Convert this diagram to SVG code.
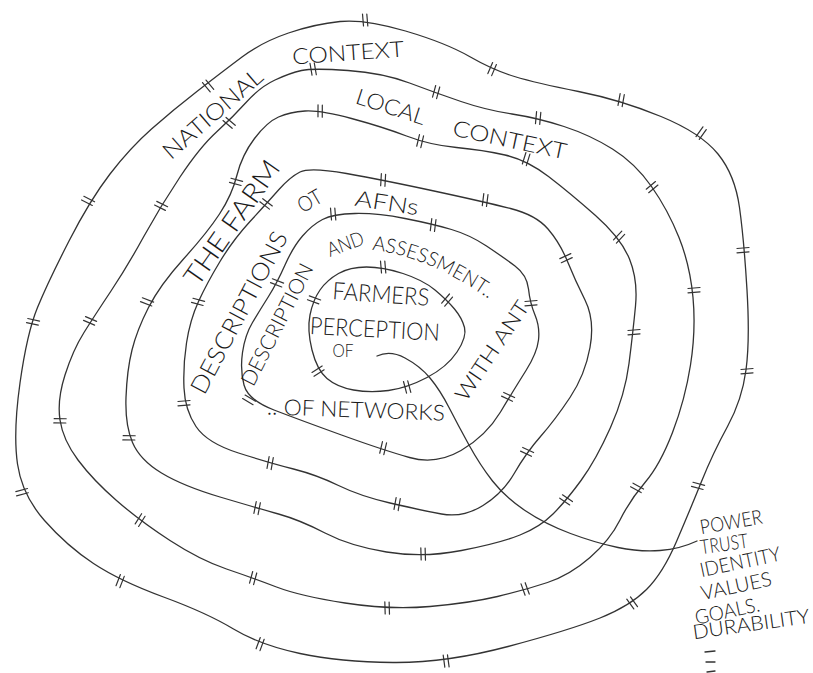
<svg xmlns="http://www.w3.org/2000/svg" xmlns:xlink="http://www.w3.org/1999/xlink" width="813" height="673" viewBox="0 0 813 673">
<style>
.ring{fill:none;stroke:#333;stroke-width:1.3;stroke-linejoin:round}
.lbl{font-family:Lato,"Liberation Sans","DejaVu Sans",sans-serif;font-weight:300;fill:#1a1a1a;text-anchor:middle;dominant-baseline:central}
.lst{font-family:Lato,"Liberation Sans","DejaVu Sans",sans-serif;font-weight:300;fill:#1a1a1a;font-size:20px;text-anchor:middle;dominant-baseline:central}
.conn{fill:none;stroke:#333;stroke-width:1.3;stroke-linecap:round}
</style>
<defs>
<path id="tk" d="M-2.5,-6 L-1.5,6 M1.8,-6 L2.8,6" fill="none" stroke="#333" stroke-width="1.2" stroke-linecap="round"/>
</defs>
<rect width="813" height="673" fill="#ffffff"/>

<g id="ring-national">
<path class="ring" d="M 340,21.5 Q 365,19 405.5,31 Q 446,43 469.5,56.5 Q 493,70 514.5,76.5 Q 536,83 578.5,91.5 Q 621,100 661,116.5 Q 701,133 718,154 Q 735,175 739.5,207.5 Q 744,240 747,290 Q 750,340 746,370 Q 742,400 727.5,426.5 Q 713,453 701.5,481.5 Q 690,510 676.5,541.5 Q 663,573 646.5,589.5 Q 630,606 600,618 Q 570,630 508,646.5 Q 446,663 393,662.5 Q 340,662 300,653.5 Q 260,645 233.5,629 Q 207,613 163.5,597 Q 120,581 93.5,563.5 Q 67,546 44.5,520.5 Q 22,495 17.5,464 Q 13,433 20,383 Q 27,333 37.5,307.5 Q 48,282 69,241 Q 90,200 110,174 Q 130,148 151.5,129 Q 173,110 197.5,91 Q 222,72 242,57 Q 262,42 288.5,33 Q 315,24 340,21.5 Z"/>
<use href="#tk" transform="translate(365,20) rotate(0)"/>
<use href="#tk" transform="translate(492,69) rotate(28)"/>
<use href="#tk" transform="translate(621,100) rotate(15)"/>
<use href="#tk" transform="translate(701,133) rotate(40)"/>
<use href="#tk" transform="translate(743,250) rotate(90)"/>
<use href="#tk" transform="translate(747,371) rotate(90)"/>
<use href="#tk" transform="translate(698,486) rotate(-70)"/>
<use href="#tk" transform="translate(632,603) rotate(-31)"/>
<use href="#tk" transform="translate(446,661) rotate(-3)"/>
<use href="#tk" transform="translate(260,644) rotate(25)"/>
<use href="#tk" transform="translate(120,581) rotate(26)"/>
<use href="#tk" transform="translate(22,492) rotate(80)"/>
<use href="#tk" transform="translate(33,322) rotate(-73)"/>
<use href="#tk" transform="translate(88,201) rotate(-58)"/>
<use href="#tk" transform="translate(208,86) rotate(-35)"/>
<text class="lbl" font-size="23" transform="translate(212,113) rotate(-41)" textLength="124" lengthAdjust="spacingAndGlyphs">NATIONAL</text>
<text class="lbl" font-size="22" transform="translate(348,52) rotate(-4)" textLength="112" lengthAdjust="spacingAndGlyphs">CONTEXT</text>
</g>

<g id="ring-local">
<path class="ring" d="M 301.5,70.5 Q 313,68 348,70.5 Q 383,73 409.5,83 Q 436,93 461,101.5 Q 486,110 512,114 Q 538,118 564,126.5 Q 590,135 612.5,149 Q 635,163 651.5,186.5 Q 668,210 679,237.5 Q 690,265 693,297.5 Q 696,330 690.5,365 Q 685,400 672.5,432.5 Q 660,465 645,482.5 Q 630,500 620,520 Q 610,540 590,557.5 Q 570,575 547.5,582.5 Q 525,590 497.5,596.5 Q 470,603 430,606.5 Q 390,610 345,603 Q 300,596 276.5,587 Q 253,578 226.5,569 Q 200,560 170,540.5 Q 140,521 116.5,500.5 Q 93,480 78,460 Q 63,440 60,420 Q 57,400 65,375 Q 73,350 84,332.5 Q 95,315 111,291 Q 127,267 143.5,237 Q 160,207 180,177 Q 200,147 216.5,132 Q 233,117 246.5,102 Q 260,87 275,80 Q 290,73 301.5,70.5 Z"/>
<use href="#tk" transform="translate(313,69) rotate(-5)"/>
<use href="#tk" transform="translate(436,92) rotate(20)"/>
<use href="#tk" transform="translate(538,118) rotate(10)"/>
<use href="#tk" transform="translate(652,187) rotate(55)"/>
<use href="#tk" transform="translate(694,290) rotate(90)"/>
<use href="#tk" transform="translate(637,488) rotate(-56)"/>
<use href="#tk" transform="translate(525,589) rotate(-15)"/>
<use href="#tk" transform="translate(387,608) rotate(3)"/>
<use href="#tk" transform="translate(253,578) rotate(20)"/>
<use href="#tk" transform="translate(140,520) rotate(37)"/>
<use href="#tk" transform="translate(60,421) rotate(-85)"/>
<use href="#tk" transform="translate(90,321) rotate(-62)"/>
<use href="#tk" transform="translate(161,206) rotate(-59)"/>
<use href="#tk" transform="translate(229,123) rotate(-45)"/>
<text class="lbl" font-size="22" transform="translate(391,106) rotate(18)" textLength="72" lengthAdjust="spacingAndGlyphs">LOCAL</text>
<text class="lbl" font-size="22" transform="translate(510,139) rotate(12)" textLength="116" lengthAdjust="spacingAndGlyphs">CONTEXT</text>
</g>

<g id="ring-farm">
<path class="ring" d="M 305,111 Q 320,110 351.5,118.5 Q 383,127 406.5,136 Q 430,145 456.5,147.5 Q 483,150 505,155 Q 527,160 548.5,176.5 Q 570,193 595.5,215.5 Q 621,238 629.5,259 Q 638,280 635.5,306 Q 633,332 629,363.5 Q 625,395 610.5,427.5 Q 596,460 581,480.5 Q 566,501 553,514 Q 540,527 520,535 Q 500,543 461.5,550.5 Q 423,558 386.5,552 Q 350,546 325,533 Q 300,520 278.5,514 Q 257,508 220,497 Q 183,486 161.5,473 Q 140,460 132.5,442.5 Q 125,425 126,397.5 Q 127,370 132,350 Q 137,330 148.5,307.5 Q 160,285 183.5,259 Q 207,233 219.5,214 Q 232,195 237,175 Q 242,155 254.5,138.5 Q 267,122 278.5,117 Q 290,112 305,111 Z"/>
<use href="#tk" transform="translate(320,111) rotate(5)"/>
<use href="#tk" transform="translate(420,141) rotate(18)"/>
<use href="#tk" transform="translate(526,159) rotate(22)"/>
<use href="#tk" transform="translate(619,237) rotate(48)"/>
<use href="#tk" transform="translate(634,332) rotate(90)"/>
<use href="#tk" transform="translate(566,500) rotate(-51)"/>
<use href="#tk" transform="translate(423,554) rotate(3)"/>
<use href="#tk" transform="translate(257,508) rotate(16)"/>
<use href="#tk" transform="translate(129,438) rotate(-85)"/>
<use href="#tk" transform="translate(147,302) rotate(-64)"/>
<use href="#tk" transform="translate(236,182) rotate(-70)"/>
<text class="lbl" font-size="27" transform="translate(231,222) rotate(-55)" textLength="146" lengthAdjust="spacingAndGlyphs">THE FARM</text>
</g>

<g id="ring-afn">
<path class="ring" d="M 300,172 Q 310,167 346.5,173.5 Q 383,180 434,191 Q 485,202 510.5,208.5 Q 536,215 548,229 Q 560,243 567.5,261.5 Q 575,280 585,300 Q 595,320 590,347.5 Q 585,375 570,397.5 Q 555,420 540.5,436.5 Q 526,453 514.5,473 Q 503,493 483,505.5 Q 463,518 441.5,514 Q 420,510 390,503 Q 360,496 338.5,485.5 Q 317,475 293.5,469 Q 270,463 238.5,453 Q 207,443 196,426.5 Q 185,410 184,388 Q 183,366 186.5,343 Q 190,320 198.5,301.5 Q 207,283 220,261.5 Q 233,240 250,221.5 Q 267,203 278.5,190 Q 290,177 300,172 Z"/>
<use href="#tk" transform="translate(383,180) rotate(8)"/>
<use href="#tk" transform="translate(485,200) rotate(12)"/>
<use href="#tk" transform="translate(566,258) rotate(70)"/>
<use href="#tk" transform="translate(527,452) rotate(-60)"/>
<use href="#tk" transform="translate(397,504) rotate(15)"/>
<use href="#tk" transform="translate(270,463) rotate(15)"/>
<use href="#tk" transform="translate(184,403) rotate(90)"/>
<use href="#tk" transform="translate(198,302) rotate(-70)"/>
<use href="#tk" transform="translate(266,204) rotate(-48)"/>
<text class="lbl" font-size="24" transform="translate(238,312) rotate(-62)" textLength="180" lengthAdjust="spacingAndGlyphs">DESCRIPTIONS</text>
<text class="lbl" font-size="21" transform="translate(309,200) rotate(-30)" textLength="25" lengthAdjust="spacingAndGlyphs">OT</text>
<text class="lbl" font-size="22" transform="translate(387,202) rotate(9)" textLength="64" lengthAdjust="spacingAndGlyphs">AFNs</text>
</g>

<g id="ring-ant">
<path class="ring" d="M 322.5,219.5 Q 333,214 355,213.5 Q 377,213 405,218.5 Q 433,224 451.5,229.5 Q 470,235 486.5,246 Q 503,257 515,266 Q 527,275 528.5,289 Q 530,303 535,315 Q 540,327 538.5,340 Q 537,353 526,370.5 Q 515,388 500.5,412 Q 486,436 461,450.5 Q 436,465 409.5,457.5 Q 383,450 341.5,435 Q 300,420 274,410 Q 248,400 244,385 Q 240,370 242.5,352.5 Q 245,335 252.5,322.5 Q 260,310 268.5,296.5 Q 277,283 285,265 Q 293,247 302.5,236 Q 312,225 322.5,219.5 Z"/>
<use href="#tk" transform="translate(333,214) rotate(0)"/>
<use href="#tk" transform="translate(433,225) rotate(12)"/>
<use href="#tk" transform="translate(531,303) rotate(90)"/>
<use href="#tk" transform="translate(508,397) rotate(-60)"/>
<use href="#tk" transform="translate(383,448) rotate(18)"/>
<use href="#tk" transform="translate(249,400) rotate(-55)"/>
<use href="#tk" transform="translate(277,283) rotate(-64)"/>
<text class="lbl" font-size="21" transform="translate(276,324) rotate(-63)" textLength="134" lengthAdjust="spacingAndGlyphs">DESCRIPTION</text>
<text class="lbl" font-size="20" transform="translate(345,243) rotate(-20)" textLength="38" lengthAdjust="spacingAndGlyphs">AND</text>
<path id="assess" d="M 372,250 Q 430,256 496,304" fill="none"/>
<text font-family="Lato, Liberation Sans, DejaVu Sans, sans-serif" font-weight="300" font-size="20" fill="#1a1a1a"><textPath href="#assess" textLength="128" lengthAdjust="spacingAndGlyphs">ASSESSMENT..</textPath></text>
<text class="lbl" font-size="21" transform="translate(491,350) rotate(-56)" textLength="115" lengthAdjust="spacingAndGlyphs">WITH ANT</text>
<text class="lbl" font-size="22" transform="translate(356,409) rotate(2)" textLength="178" lengthAdjust="spacingAndGlyphs">.. OF NETWORKS</text>
</g>

<g id="ring-farmers">
<path class="ring" d="M 366.5,267 Q 383,267 403,273.5 Q 423,280 435,290 Q 447,300 454.5,309 Q 462,318 464.5,327.5 Q 467,337 457,352 Q 447,367 427,377.5 Q 407,388 388.5,390.5 Q 370,393 353.5,390 Q 337,387 327,378.5 Q 317,370 312,350 Q 307,330 310,315 Q 313,300 320,290 Q 327,280 338.5,273.5 Q 350,267 366.5,267 Z"/>
<use href="#tk" transform="translate(383,267) rotate(0)"/>
<use href="#tk" transform="translate(447,300) rotate(45)"/>
<use href="#tk" transform="translate(407,387) rotate(-10)"/>
<use href="#tk" transform="translate(318,371) rotate(62)"/>
<use href="#tk" transform="translate(314,300) rotate(-65)"/>
<text class="lbl" font-size="24" transform="translate(381,293) rotate(4)" textLength="97" lengthAdjust="spacingAndGlyphs">FARMERS</text>
<text class="lbl" font-size="24" transform="translate(375,328) rotate(3)" textLength="130" lengthAdjust="spacingAndGlyphs">PERCEPTION</text>
<text class="lbl" font-size="18" transform="translate(343,350)" textLength="21" lengthAdjust="spacingAndGlyphs">OF</text>
</g>

<g id="connectors">
<path class="conn" d="M 377,356 Q 390,350 405,358 Q 420,366 430,378 Q 440,390 449,407.5 Q 458,425 469,445 Q 480,465 492.5,481 Q 505,497 525,510.5 Q 545,524 570.5,533.5 Q 596,543 618,547.5 Q 640,552 660,550.5 Q 680,549 697,541"/>
</g>

<g id="aspects-list">
<text class="lst" transform="translate(731,521) rotate(-10)" textLength="63" lengthAdjust="spacingAndGlyphs">POWER</text>
<text class="lst" transform="translate(724,543) rotate(-8)" textLength="48" lengthAdjust="spacingAndGlyphs">TRUST</text>
<text class="lst" transform="translate(740,561) rotate(-12)" textLength="82" lengthAdjust="spacingAndGlyphs">IDENTITY</text>
<text class="lst" transform="translate(736,585) rotate(-12)" textLength="72" lengthAdjust="spacingAndGlyphs">VALUES</text>
<text class="lst" transform="translate(727,610) rotate(-12)" textLength="66" lengthAdjust="spacingAndGlyphs">GOALS.</text>
<text class="lst" transform="translate(751,623) rotate(-8)" textLength="118" lengthAdjust="spacingAndGlyphs">DURABILITY</text>
<path d="M 705,652 L 715,651 M 706,662 L 715,662 M 707,672 L 715,671" fill="none" stroke="#333" stroke-width="1.3" stroke-linecap="round"/>
</g>
</svg>
